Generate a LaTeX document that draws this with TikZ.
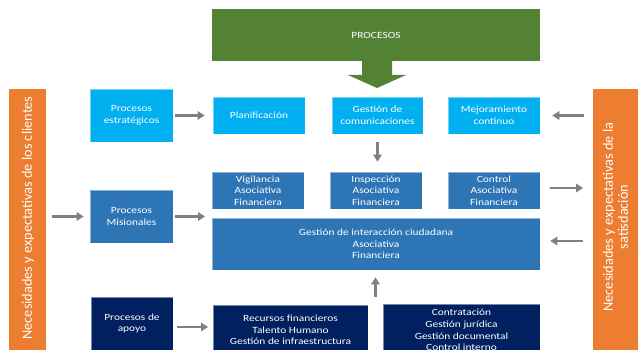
\documentclass[tikz,border=0pt]{standalone}
\usepackage{fontspec}
\setmainfont{Carlito}
\newfontfamily\boxfont[FakeStretch=1.2]{Carlito}
\usetikzlibrary{arrows.meta,calc}
\definecolor{cgreen}{HTML}{548235}
\definecolor{corange}{HTML}{ED7D31}
\definecolor{clblue}{HTML}{00B0F0}
\definecolor{cmblue}{HTML}{2E75B6}
\definecolor{cnavy}{HTML}{002060}
\definecolor{cgray}{HTML}{808080}
\tikzset{
  box/.style={inner sep=1pt, text=white, align=center,
    draw=white, draw opacity=0.45, line width=0.7pt,
    font=\boxfont\fontsize{9.5}{11.6}\selectfont},
  lbox/.style={box, fill=clblue},
  mbox/.style={box, fill=cmblue},
  nbox/.style={box, fill=cnavy},
  bar/.style={fill=corange, text=white, align=center, inner sep=0pt,
    font=\fontsize{14.3}{15}\selectfont},
  arr/.style={draw=cgray, line width=2.6pt, -{Triangle[length=7pt,width=8.5pt]}}
}
\begin{document}
\begin{tikzpicture}[x=1pt,y=-1pt]
\useasboundingbox (0,0) rectangle (638,350);
\clip (0,0) rectangle (638,350);
\fill[white] (0,0) rectangle (638,350);
% top green
\node[box, fill=cgreen, draw=none, minimum width=328pt, minimum height=52pt] (proc) at (376,35) {PROCESOS};
\fill[cgreen] (362,60) -- (362,75) -- (348,75) -- (377,88) -- (406,75) -- (392,75) -- (392,60) -- cycle;
% side bars
\node[bar, minimum width=37pt, minimum height=262pt] (lbar) at (27.5,220) {};
\node[bar, rotate=90] (ltext) at (28,218) {Necesidades y expectativas de los clientes};
\node[bar, minimum width=50pt, minimum height=262pt] (rbar) at (618,220) {};
\node[bar, rotate=90] (rtext) at (615.5,217) {Necesidades y expectativas de la\\satisdación};
% row 1
\node[lbox, minimum width=83pt, minimum height=53pt] (estr) at (131.5,115.5) {Procesos\\estratégicos};
\node[lbox, minimum width=92pt, minimum height=37pt] (plan) at (259,115.5) {Planificación};
\node[lbox, minimum width=91pt, minimum height=37pt] (gcom) at (377.5,115.5) {Gestión de\\comunicaciones};
\node[lbox, minimum width=92pt, minimum height=37pt] (mejo) at (494,115.5) {Mejoramiento\\continuo};
% row 2
\node[mbox, minimum width=83pt, minimum height=53pt] (mis) at (131.5,216.5) {Procesos\\Misionales};
\node[mbox, minimum width=92pt, minimum height=37pt] (vig) at (258,190.5) {Vigilancia\\Asociativa\\Financiera};
\node[mbox, minimum width=92pt, minimum height=37pt] (insp) at (376,190.5) {Inspección\\Asociativa\\Financiera};
\node[mbox, minimum width=92pt, minimum height=37pt] (ctrl) at (494,190.5) {Control\\Asociativa\\Financiera};
\node[mbox, minimum width=328pt, minimum height=52pt] (gic) at (376,244) {Gestión de interacción ciudadana\\Asociativa\\Financiera};
% row 3
\node[nbox, minimum width=82pt, minimum height=53pt] (apoyo) at (132,323.5) {Procesos de\\apoyo};
\node[nbox, minimum width=155pt, minimum height=50pt] (rec) at (290.5,330) {Recursos financieros\\Talento Humano\\Gestión de infraestructura};
\node[nbox, minimum width=157pt, minimum height=52pt] (contr) at (461.5,330) {Contratación\\Gestión jurídica\\Gestión documental\\Control interno};
% connectors
\coordinate (misend) at (205,216.5);
\coordinate (apend) at (208,327);
\coordinate (upstart) at (375.5,297);
\coordinate (ctrlend) at (583,188);
\coordinate (gicstart) at (583,241);
\draw[arr, shorten <=2pt, shorten >=8pt] (estr) -- (plan);
\draw[arr, shorten <=6pt, shorten >=6pt] (lbar.east |- mis) -- (mis.west);
\draw[arr, shorten <=2pt] (mis) -- (misend);
\draw[arr, shorten <=4pt] (apoyo.east |- apend) -- (apend);
\draw[arr, shorten <=8pt, shorten >=10pt] (gcom.south) -- (gcom.south |- insp.north);
\draw[arr, shorten >=7pt] (upstart) -- (upstart |- gic.south);
\draw[arr, shorten <=9pt, shorten >=12pt] (rbar.west |- mejo) -- (mejo.east);
\draw[arr, shorten <=10pt] (ctrl.east |- ctrlend) -- (ctrlend);
\draw[arr, shorten >=10pt] (gicstart) -- (gic.east |- gicstart);
\end{tikzpicture}
\end{document}
